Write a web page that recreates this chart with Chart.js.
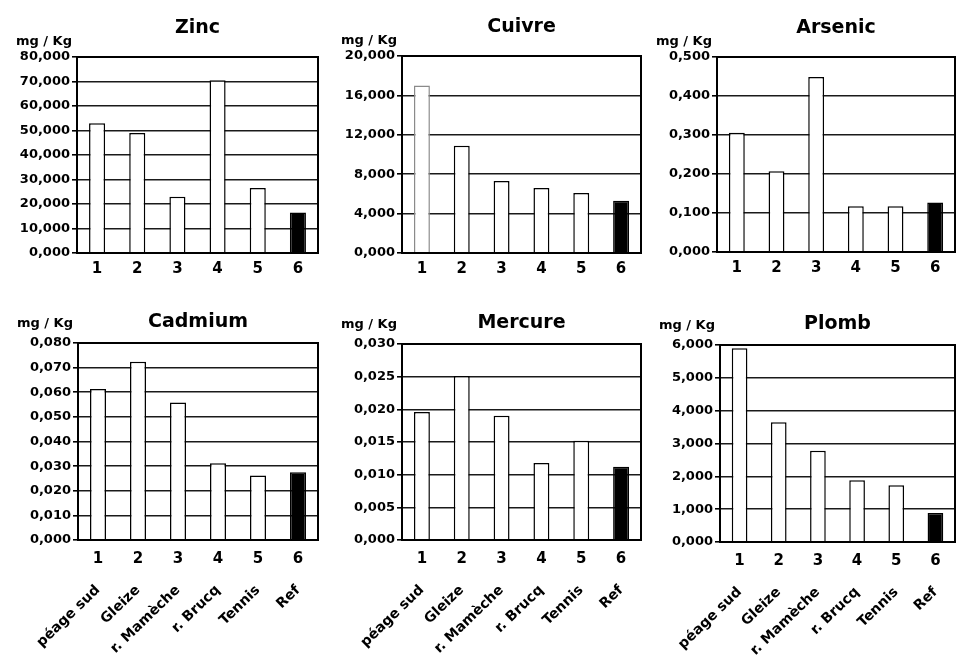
<!DOCTYPE html>
<html>
<head>
<meta charset="utf-8">
<script src="https://cdn.jsdelivr.net/npm/chart.js@4.4.1/dist/chart.umd.min.js"></script>
<style>
  html, body { margin: 0; padding: 0; background: #fff; }
  body { width: 957px; height: 662px; position: relative; overflow: hidden; }
  canvas { position: absolute; }
</style>
</head>
<body>
<canvas id="zinc"></canvas>
<canvas id="cuivre"></canvas>
<canvas id="arsenic"></canvas>
<canvas id="cadmium"></canvas>
<canvas id="mercure"></canvas>
<canvas id="plomb"></canvas>
<script>
// categories
const siteNumbers = ["1", "2", "3", "4", "5", "6"];
const siteNames = ["péage sud", "Gleize", "r. Mamèche", "r. Brucq", "Tennis", "Ref"];
const unitLabel = "mg / Kg";

// values, mg / Kg
const zincValues = [53, 49, 23, 70.5, 26.5, 16.5];
const cuivreValues = [17, 10.9, 7.3, 6.6, 6.1, 5.3];
const arsenicValues = [0.306, 0.207, 0.449, 0.117, 0.117, 0.127];
const cadmiumValues = [0.0613, 0.0724, 0.0558, 0.0312, 0.0262, 0.0275];
const mercureValues = [0.0196, 0.0251, 0.019, 0.0118, 0.0152, 0.0112];
const plombValues = [5.9, 3.65, 2.78, 1.88, 1.73, 0.88];

// y axis ranges: [max, step]
const zincAxis = [80, 10];
const cuivreAxis = [20, 4];
const arsenicAxis = [0.5, 0.1];
const cadmiumAxis = [0.08, 0.01];
const mercureAxis = [0.03, 0.005];
const plombAxis = [6, 1];

const FONT = "'DejaVu Sans', 'Noto Sans', sans-serif";
Chart.defaults.font.family = FONT;
Chart.defaults.font.weight = "bold";
Chart.defaults.color = "#000";

const barFills = ["#fff", "#fff", "#fff", "#fff", "#fff", "#000"];
const barBorders = ["#000", "#000", "#000", "#000", "#000", "#000"];

// box = canvas [left, top, width, height], plot = chart area [left, top, right, bottom]
const panels = [
  { id: "zinc", title: "Zinc", values: zincValues, axis: zincAxis, row: 0,
    box: [0, 0, 322, 290], plot: [77, 57, 318, 253] },
  { id: "cuivre", title: "Cuivre", values: cuivreValues, axis: cuivreAxis, row: 0,
    box: [320, 0, 325, 290], plot: [402, 56, 641, 253],
    borders: ["#8a8a8a", "#000", "#000", "#000", "#000", "#000"] },
  { id: "arsenic", title: "Arsenic", values: arsenicValues, axis: arsenicAxis, row: 0,
    box: [640, 0, 317, 290], plot: [717, 57, 955, 252] },
  { id: "cadmium", title: "Cadmium", values: cadmiumValues, axis: cadmiumAxis, row: 1,
    box: [0, 300, 322, 362], plot: [78, 343, 318, 540] },
  { id: "mercure", title: "Mercure", values: mercureValues, axis: mercureAxis, row: 1,
    box: [320, 300, 325, 362], plot: [402, 344, 641, 540] },
  { id: "plomb", title: "Plomb", values: plombValues, axis: plombAxis, row: 1,
    box: [640, 300, 317, 362], plot: [720, 345, 955, 542] },
];

function fmt(v) {
  return Number(v).toFixed(3).replace(".", ",");
}

const panelText = {
  id: "panelText",
  afterDatasetsDraw(chart, args, opts) {
    const { ctx, chartArea: a } = chart;
    ctx.save();
    ctx.strokeStyle = "#000";
    ctx.lineWidth = 2;
    ctx.strokeRect(a.left, a.top, a.right - a.left, a.bottom - a.top);
    ctx.fillStyle = "#000";
    ctx.textBaseline = "middle";
    ctx.textAlign = "center";
    ctx.font = `bold 19px ${FONT}`;
    ctx.fillText(opts.title, (a.left + a.right) / 2, a.top - opts.titleGap);
    ctx.textAlign = "right";
    ctx.font = `bold 13px ${FONT}`;
    ctx.fillText(unitLabel, a.left - 5, a.top - opts.unitGap);
    ctx.restore();
  },
};

panels.forEach((p) => {
  const canvas = document.getElementById(p.id);
  const [bx, by, bw, bh] = p.box;
  const [pl, pt, pr, pb] = p.plot;
  canvas.width = bw;
  canvas.height = bh;
  canvas.style.left = bx + "px";
  canvas.style.top = by + "px";

  const below = by + bh - pb;
  const xH = p.row ? 28 : below;

  const scales = {
    x: {
      type: "category",
      offset: true,
      weight: 0,
      grid: { display: false, drawTicks: false },
      border: { display: true, color: "#000", width: 2 },
      ticks: { font: { size: 15, weight: "bold" }, color: "#000", padding: p.row ? 10 : 7, autoSkip: false, maxRotation: 0 },
      afterFit: (s) => { s.height = xH; s.paddingLeft = 0; s.paddingRight = 0; },
    },
    y: {
      min: 0,
      max: p.axis[0],
      ticks: { stepSize: p.axis[1], callback: fmt, font: { size: 13, weight: "bold" }, color: "#000", padding: 2, autoSkip: false },
      grid: { color: "#1a1a1a", lineWidth: 1.6, drawTicks: true, tickLength: 5, tickColor: "#000" },
      border: { display: true, color: "#000", width: 2 },
      afterFit: (s) => { s.width = pl - bx; s.paddingTop = 0; s.paddingBottom = 0; },
    },
  };

  if (p.row) {
    scales.x2 = {
      type: "category",
      labels: siteNames,
      position: "bottom",
      offset: true,
      weight: 1,
      grid: { display: false, drawTicks: false },
      border: { display: false },
      ticks: { font: { size: 14, weight: "bold" }, color: "#000", minRotation: 44, maxRotation: 44, autoSkip: false, padding: 14 },
      afterFit: (s) => { s.height = below - xH; s.paddingLeft = 0; s.paddingRight = 0; },
    };
  }

  new Chart(canvas, {
    type: "bar",
    data: {
      labels: siteNumbers,
      datasets: [
        {
          data: p.values,
          backgroundColor: barFills,
          borderColor: p.borders || barBorders,
          borderWidth: 1.5,
          barPercentage: 0.4,
          categoryPercentage: 1,
        },
      ],
    },
    options: {
      responsive: false,
      maintainAspectRatio: false,
      animation: false,
      layout: { padding: { left: 0, top: pt - by, right: bx + bw - pr, bottom: 0 } },
      plugins: {
        legend: { display: false },
        tooltip: { enabled: false },
        panelText: { title: p.title, titleGap: p.row ? 21 : 29, unitGap: p.row ? 19 : 15 },
      },
      scales,
    },
    plugins: [panelText],
  });
});
</script>
</body>
</html>
